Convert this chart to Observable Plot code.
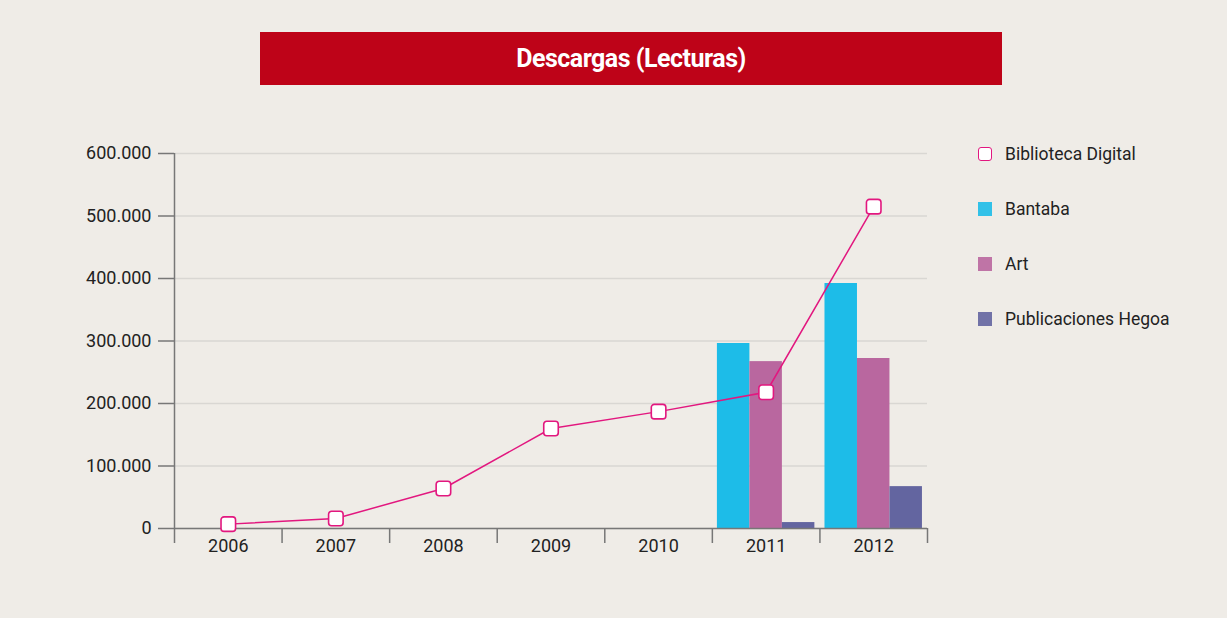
<!DOCTYPE html>
<html>
<head>
<meta charset="utf-8">
<script src="https://cdn.jsdelivr.net/npm/d3@7"></script>
<script src="https://cdn.jsdelivr.net/npm/@observablehq/plot@0.6"></script>
<style>
  html, body { margin: 0; padding: 0; background: #efece7; }
  #page { position: relative; width: 1227px; height: 618px; background: #efece7; font-family: Roboto, "Noto Sans", sans-serif; color: #222; overflow: hidden; }
  #title { position: absolute; left: 260px; top: 32px; width: 742px; height: 53px; background: #be0318; color: #fff;
           font-family: Roboto, "Noto Sans", sans-serif; font-weight: bold; font-size: 25px; line-height: 54px; text-align: center; letter-spacing: -0.5px; }
  #chart { position: absolute; left: 0; top: 100px; }
  #legend { position: absolute; left: 978px; top: 140px; }
  .item { position: absolute; left: 0; height: 28px; white-space: nowrap; font-size: 17.5px; line-height: 28px; }
  .sw { position: absolute; left: 0; top: 7px; width: 14px; height: 14px; box-sizing: border-box; }
  .lbl { position: absolute; left: 27px; top: 0; }
</style>
</head>
<body>
<div id="page">
  <div id="title">Descargas (Lecturas)</div>
  <div id="chart"></div>
  <div id="legend"></div>
</div>
<script>
const years = [2006, 2007, 2008, 2009, 2010, 2011, 2012];
const biblioteca = [7000, 16000, 64000, 160000, 187000, 218000, 515000];
const barYears = [2011, 2012];
const bantaba = [296000, 392000];
const art = [267000, 272000];
const hegoa = [9500, 67000];
const seriesNames = ["Biblioteca Digital", "Bantaba", "Art", "Publicaciones Hegoa"];
const colors = {"Biblioteca Digital": "#e2177f", "Bantaba": "#1dbce8", "Art": "#b9679f", "Publicaciones Hegoa": "#6365a0"};
const yTicks = [0, 100000, 200000, 300000, 400000, 500000, 600000];

const lineData = years.map((y, i) => ({year: y, value: biblioteca[i]}));
const barData = [];
barYears.forEach((y, i) => {
  barData.push({year: y, series: "Bantaba", k: 0, value: bantaba[i]});
  barData.push({year: y, series: "Art", k: 1, value: art[i]});
  barData.push({year: y, series: "Publicaciones Hegoa", k: 2, value: hegoa[i]});
});

const locale = d3.formatLocale({decimal: ",", thousands: ".", grouping: [3], currency: ["", "€"]});
const fmt = locale.format(",d");

// within-band layout (fractions of one year-band)
const pad = 0.047, bw = 0.302;
const boundaries = years.map(y => y - 0.5).concat([years[years.length - 1] + 0.5]);

// rounded square symbol
const roundSquare = {
  draw(context, size) {
    const s = Math.sqrt(size), h = s / 2, r = 3;
    context.moveTo(-h + r, -h);
    context.arcTo(h, -h, h, h, r);
    context.arcTo(h, h, -h, h, r);
    context.arcTo(-h, h, -h, -h, r);
    context.arcTo(-h, -h, h, -h, r);
    context.closePath();
  }
};

const plot = Plot.plot({
  width: 1227,
  height: 480,
  marginLeft: 174,
  marginRight: 300,
  marginTop: 53,
  marginBottom: 52,
  style: {background: "transparent", fontFamily: "Roboto, 'Noto Sans', sans-serif", fontSize: "18px", color: "#222"},
  x: {type: "linear", domain: [2005.5, 2012.5]},
  y: {domain: [0, 600000]},
  marks: [
    Plot.gridY(yTicks, {stroke: "#d9d7d3", strokeOpacity: 1, strokeWidth: 1.5}),
    Plot.rectY(barData, {
      x1: d => d.year - 0.5 + pad + d.k * bw,
      x2: d => d.year - 0.5 + pad + (d.k + 1) * bw,
      y: "value",
      fill: d => colors[d.series]
    }),
    Plot.ruleY([0], {stroke: "#777", strokeWidth: 1.5}),
    Plot.ruleX([2005.5], {stroke: "#777", strokeWidth: 1.5}),
    Plot.axisY(yTicks, {tickSize: 16, tickPadding: 7, tickFormat: fmt, stroke: "#777", strokeWidth: 1.5, fill: "#222", label: null, fontSize: 18}),
    Plot.axisX(boundaries, {tickSize: 15, tickFormat: () => "", stroke: "#777", strokeWidth: 1.5, label: null}),
    Plot.axisX(years, {tickSize: 0, tickPadding: 11, tickFormat: d => String(d), fill: "#222", label: null, fontSize: 18}),
    Plot.line(lineData, {x: "year", y: "value", stroke: colors["Biblioteca Digital"], strokeWidth: 1.5}),
    Plot.dot(lineData, {x: "year", y: "value", symbol: roundSquare, r: 8.2, fill: "#fff", stroke: colors["Biblioteca Digital"], strokeWidth: 1.6})
  ]
});
document.getElementById("chart").appendChild(plot);

// legend
const legend = document.getElementById("legend");
seriesNames.forEach((name, i) => {
  const item = document.createElement("div");
  item.className = "item";
  item.style.top = (i * 55) + "px";
  const sw = document.createElement("div");
  sw.className = "sw";
  if (i === 0) {
    sw.style.background = "#fff";
    sw.style.border = "1.6px solid " + colors[name];
    sw.style.borderRadius = "3px";
  } else {
    sw.style.background = colors[name];
    sw.style.opacity = "0.9";
  }
  const lbl = document.createElement("span");
  lbl.className = "lbl";
  lbl.textContent = name;
  item.appendChild(sw);
  item.appendChild(lbl);
  legend.appendChild(item);
});
</script>
</body>
</html>
